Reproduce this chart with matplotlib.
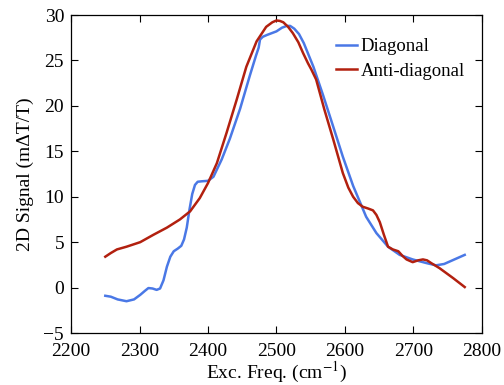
import matplotlib
matplotlib.use("Agg")
import matplotlib.pyplot as plt

plt.rcParams['font.family'] = ['Liberation Serif', 'DejaVu Serif']
plt.rcParams['mathtext.fontset'] = 'stix'

diag_x = [2250, 2258, 2268, 2281, 2292, 2301, 2308, 2313, 2319, 2325, 2330, 2335, 2340, 2345, 2350, 2356, 2361, 2365, 2369, 2373,
          2377, 2381, 2385, 2391, 2400, 2408, 2420, 2432, 2447, 2461, 2470, 2474, 2476, 2480, 2486, 2493, 2500, 2508,
          2515, 2520, 2526, 2533, 2540, 2554, 2568, 2583, 2597, 2612, 2631, 2646, 2663, 2680, 2699, 2719, 2733,
          2745, 2760, 2775]
diag_y = [-0.9, -1.0, -1.3, -1.5, -1.3, -0.8, -0.35, -0.05, -0.1, -0.25, -0.1, 0.8, 2.3, 3.4, 4.0, 4.3, 4.6, 5.3, 6.6, 8.6,
          10.3, 11.3, 11.65, 11.7, 11.75, 12.2, 14.1, 16.4, 19.7, 23.3, 25.5, 26.4, 27.3, 27.6, 27.8, 28.0, 28.2, 28.6,
          28.8, 28.8, 28.5, 27.9, 26.9, 24.3, 21.2, 17.7, 14.4, 11.2, 7.8, 6.0, 4.5, 3.6, 3.1, 2.7, 2.45,
          2.6, 3.1, 3.6]

anti_x = [2250, 2258, 2267, 2281, 2301, 2320, 2340, 2359, 2374, 2388, 2400, 2413, 2427, 2442, 2456, 2471, 2485, 2494, 2500,
          2505, 2510, 2517, 2524, 2532, 2539, 2546, 2551, 2558, 2570, 2583, 2597, 2605, 2612, 2619, 2626, 2634, 2641,
          2646, 2651, 2657, 2663, 2670, 2678, 2684, 2690, 2699, 2707, 2714, 2720, 2726, 2738, 2758, 2775]
anti_y = [3.4, 3.8, 4.2, 4.5, 5.0, 5.8, 6.6, 7.5, 8.4, 9.85, 11.5, 13.7, 17.0, 20.7, 24.3, 27.1, 28.7, 29.2, 29.4,
          29.35, 29.2, 28.7, 28.0, 27.0, 25.8, 24.7, 24.0, 22.9, 19.6, 16.3, 12.6, 11.0, 10.0, 9.3, 8.9, 8.7, 8.5,
          8.0, 7.2, 5.8, 4.5, 4.2, 4.0, 3.5, 3.1, 2.8, 3.0, 3.1, 3.0, 2.7, 2.15, 1.05, 0.06]

labels = ['Diagonal', 'Anti-diagonal']
colors = ['#4a78e6', '#b2200f']

fig = plt.figure(figsize=(5.04, 3.85), dpi=100)
ax = fig.add_axes([0.141, 0.135, 0.815, 0.826])
ax.plot(diag_x, diag_y, color=colors[0], lw=1.8, label=labels[0])
ax.plot(anti_x, anti_y, color=colors[1], lw=1.8, label=labels[1])

ax.set_xlim(2200, 2800)
ax.set_ylim(-5, 30)
ax.set_xticks(range(2200, 2801, 100))
ax.set_yticks(range(-5, 31, 5))
ax.tick_params(direction='in', top=True, right=True, labelsize=14, length=5, width=0.8)
ax.tick_params(axis='x', pad=7)
ax.tick_params(axis='y', pad=5)
for s in ax.spines.values():
    s.set_linewidth(0.9)

ax.set_xlabel('Exc. Freq. (cm$^{-1}$)', fontsize=14, labelpad=0)
ax.set_ylabel('2D Signal (m\u0394T/T)', fontsize=14, labelpad=7)

ax.legend(loc='upper right', frameon=False, fontsize=13.5, handlelength=1.1, handletextpad=0.2,
          borderaxespad=0.4, labelspacing=0.4, bbox_to_anchor=(0.995, 0.975))

fig.savefig('out.png', dpi=100)
